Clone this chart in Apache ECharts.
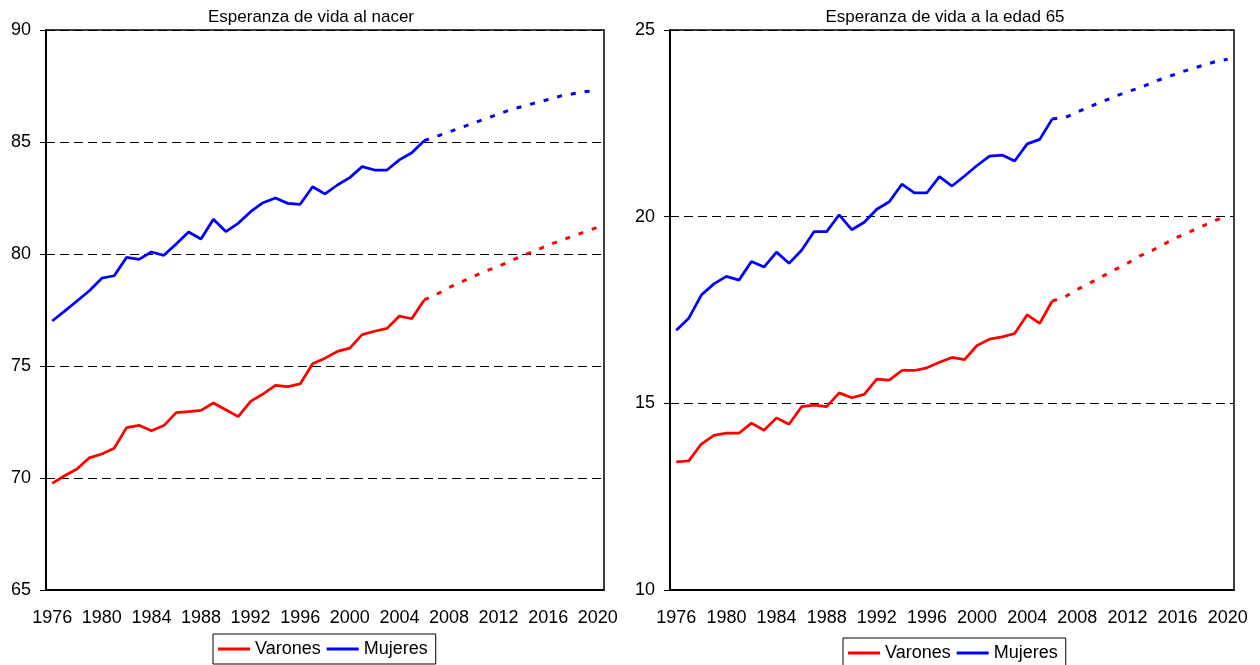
<!DOCTYPE html>
<html>
<head>
<meta charset="utf-8">
<script src="https://cdn.jsdelivr.net/npm/echarts@6/dist/echarts.min.js"></script>
<style>
html, body { margin: 0; padding: 0; background: #fff; }
#chart { width: 1260px; height: 665px; }
</style>
</head>
<body>
<div id="chart"></div>
<script>
// años 1976 - 2020
const years = ['1976', '1977', '1978', '1979', '1980', '1981', '1982', '1983', '1984', '1985',
    '1986', '1987', '1988', '1989', '1990', '1991', '1992', '1993', '1994', '1995',
    '1996', '1997', '1998', '1999', '2000', '2001', '2002', '2003', '2004', '2005',
    '2006', '2007', '2008', '2009', '2010', '2011', '2012', '2013', '2014', '2015',
    '2016', '2017', '2018', '2019', '2020'];

// observado 1976 - 2006
const nacerVarones = [69.76, 70.1, 70.4, 70.9, 71.07, 71.33, 72.25, 72.35, 72.11, 72.34,
    72.92, 72.96, 73.02, 73.35, 73.05, 72.74, 73.42, 73.75, 74.14, 74.08,
    74.2, 75.1, 75.35, 75.65, 75.8, 76.4, 76.55, 76.68, 77.23, 77.11, 77.95];
const nacerMujeres = [77.01, 77.45, 77.9, 78.36, 78.92, 79.03, 79.85, 79.76, 80.09, 79.94,
    80.45, 80.98, 80.67, 81.55, 81.0, 81.37, 81.89, 82.29, 82.5, 82.26,
    82.22, 83.0, 82.68, 83.08, 83.41, 83.9, 83.75, 83.75, 84.2, 84.52, 85.06];
const edad65Varones = [13.43, 13.46, 13.91, 14.14, 14.2, 14.2, 14.47, 14.28, 14.61, 14.44,
    14.91, 14.95, 14.91, 15.28, 15.15, 15.24, 15.65, 15.62, 15.88, 15.88,
    15.95, 16.1, 16.23, 16.17, 16.55, 16.72, 16.78, 16.87, 17.37, 17.14, 17.74];
const edad65Mujeres = [16.96, 17.28, 17.9, 18.2, 18.4, 18.3, 18.8, 18.65, 19.05, 18.75,
    19.1, 19.6, 19.6, 20.05, 19.65, 19.85, 20.2, 20.4, 20.87, 20.64,
    20.64, 21.07, 20.82, 21.09, 21.37, 21.62, 21.65, 21.49, 21.95, 22.07, 22.62];

// proyección 2006 - 2020
const nacerVaronesProy = [77.95, 78.2, 78.5, 78.75, 79.0, 79.25, 79.45, 79.7, 79.95, 80.15,
    80.4, 80.6, 80.8, 81.0, 81.2];
const nacerMujeresProy = [85.06, 85.25, 85.45, 85.65, 85.85, 86.05, 86.25, 86.45, 86.6, 86.75,
    86.9, 87.05, 87.15, 87.25, 87.3];
const edad65VaronesProy = [17.74, 17.85, 18.05, 18.22, 18.4, 18.58, 18.75, 18.95, 19.1, 19.28,
    19.45, 19.6, 19.75, 19.9, 20.02];
const edad65MujeresProy = [22.62, 22.65, 22.8, 22.95, 23.08, 23.22, 23.35, 23.45, 23.6, 23.72,
    23.84, 23.95, 24.05, 24.15, 24.22];

const font = 'Liberation Sans, Arial, sans-serif';
const red = '#ff0000';
const blue = '#0000ff';

// rellena con null hasta cubrir todas las categorías
function observed(arr) {
    return arr.concat(new Array(years.length - arr.length).fill(null));
}
function projected(arr) {
    return new Array(years.length - arr.length).fill(null).concat(arr);
}

function xAxisFor(gridIndex) {
    return {
        type: 'category',
        gridIndex: gridIndex,
        data: years,
        boundaryGap: true,
        axisLine: { lineStyle: { color: '#000', width: 2 } },
        axisTick: { interval: 0, length: 6, lineStyle: { color: '#000', width: 1 } },
        axisLabel: { interval: 3, margin: 19, color: '#000', fontSize: 18, fontFamily: font },
        splitLine: { show: false }
    };
}

function yAxisFor(gridIndex, min, max) {
    return {
        type: 'value',
        gridIndex: gridIndex,
        min: min,
        max: max,
        interval: 5,
        axisLine: { show: true, lineStyle: { color: '#000', width: 2 } },
        axisTick: { show: true, length: 6, lineStyle: { color: '#000' } },
        axisLabel: { margin: 15, color: '#000', fontSize: 18, fontFamily: font },
        splitLine: { show: true, lineStyle: { color: '#000', width: 1, type: [9, 5] } }
    };
}

function line(name, idx, data, color, dotted) {
    return {
        name: name,
        type: 'line',
        xAxisIndex: idx,
        yAxisIndex: idx,
        data: data,
        symbol: 'none',
        connectNulls: false,
        lineStyle: { color: color, width: dotted ? 3 : 2.75, type: dotted ? [5, 9] : 'solid' },
        itemStyle: { color: color },
        z: dotted ? 3 : 4
    };
}

function legendFor(left, top) {
    return {
        left: left,
        top: top,
        data: ['Varones', 'Mujeres'],
        icon: 'rect',
        itemWidth: 32,
        itemHeight: 3,
        itemGap: 6,
        padding: [6, 8, 6, 5],
        borderColor: '#000',
        borderWidth: 1,
        textStyle: { color: '#000', fontSize: 18, fontFamily: font }
    };
}

const chart = echarts.init(document.getElementById('chart'));
const option = {
    animation: false,
    backgroundColor: '#fff',
    title: [
        {
            text: 'Esperanza de vida al nacer',
            left: 306,
            top: 4,
            textAlign: 'center',
            textStyle: { fontSize: 17, fontWeight: 'normal', color: '#000', fontFamily: font }
        },
        {
            text: 'Esperanza de vida a la edad 65',
            left: 940,
            top: 4,
            textAlign: 'center',
            textStyle: { fontSize: 17, fontWeight: 'normal', color: '#000', fontFamily: font }
        }
    ],
    legend: [legendFor(213, 634), legendFor(843, 638)],
    grid: [
        { left: 46, top: 30, width: 558, height: 560, show: true, borderColor: '#000', borderWidth: 1.5 },
        { left: 670, top: 30, width: 564, height: 560, show: true, borderColor: '#000', borderWidth: 1.5 }
    ],
    xAxis: [xAxisFor(0), xAxisFor(1)],
    yAxis: [yAxisFor(0, 65, 90), yAxisFor(1, 10, 25)],
    series: [
        line('Varones', 0, observed(nacerVarones), red, false),
        line('Mujeres', 0, observed(nacerMujeres), blue, false),
        line('Varones proyección', 0, projected(nacerVaronesProy), red, true),
        line('Mujeres proyección', 0, projected(nacerMujeresProy), blue, true),
        line('Varones', 1, observed(edad65Varones), red, false),
        line('Mujeres', 1, observed(edad65Mujeres), blue, false),
        line('Varones proyección', 1, projected(edad65VaronesProy), red, true),
        line('Mujeres proyección', 1, projected(edad65MujeresProy), blue, true)
    ]
};
chart.setOption(option);
</script>
</body>
</html>
